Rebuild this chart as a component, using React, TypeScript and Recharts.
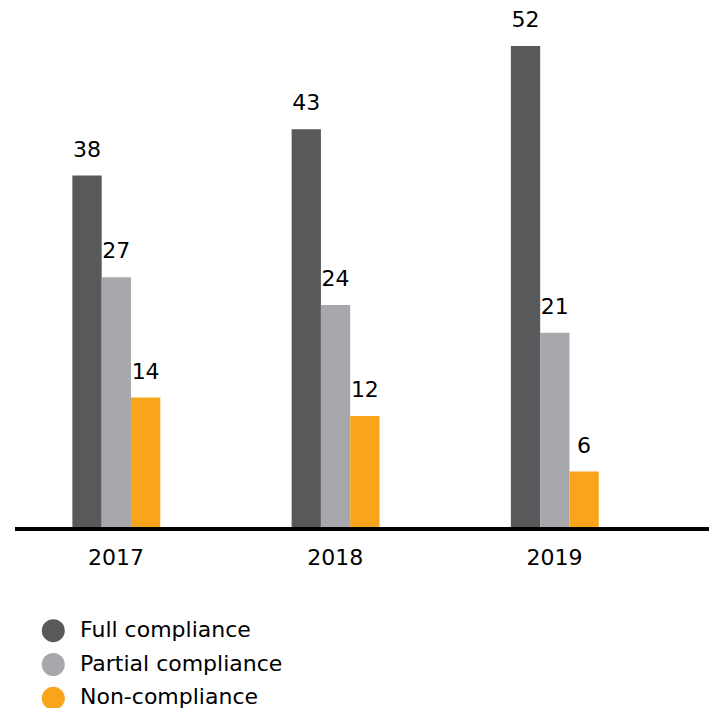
import React from 'react';
import { BarChart, Bar, XAxis, YAxis, LabelList, Legend } from 'recharts';

const years = ['2017', '2018', '2019'];
const fullCompliance = [38, 43, 52];
const partialCompliance = [27, 24, 21];
const nonCompliance = [14, 12, 6];

const seriesNames = ['Full compliance', 'Partial compliance', 'Non-compliance'];
const seriesKeys = ['full', 'partial', 'non'];
const seriesColors = ['#58595b', '#a7a8ab', '#f8a51c'];

const data = years.map((y, i) => ({
  x: i,
  year: y,
  full: fullCompliance[i],
  partial: partialCompliance[i],
  non: nonCompliance[i],
}));

const FONT = 'DejaVu Sans, sans-serif';

const LegendContent = () => (
  <svg width={320} height={112}>
    {seriesNames.map((name, i) => (
      <g key={name}>
        <circle cx={45.3} cy={30.7 + i * 33.8} r={11.5} fill={seriesColors[i]} />
        <text x={72} y={36.7 + i * 33.8} fontSize={22} fontFamily={FONT} fill="#000">
          {name}
        </text>
      </g>
    ))}
  </svg>
);

export default function App() {
  return (
    <BarChart
      width={712}
      height={700}
      data={data}
      margin={{ top: 38, right: 11, left: 7, bottom: 139 }}
      barGap={0}
      barSize={29.3}
    >
      <XAxis
        dataKey="x"
        type="number"
        domain={[-0.4607, 2.7047]}
        ticks={[0, 1, 2]}
        tickFormatter={(v: number) => years[v]}
        axisLine={{ stroke: '#000', strokeWidth: 4 }}
        tickLine={false}
        tickSize={0}
        tickMargin={20}
        height={40}
        tick={{ fontSize: 22, fill: '#000', fontFamily: FONT }}
        allowDataOverflow
      />
      <YAxis hide domain={[-0.216, 52]} allowDataOverflow />
      <Legend
        layout="horizontal"
        verticalAlign="middle"
        align="center"
        content={<LegendContent />}
        wrapperStyle={{ top: 592, left: 0, width: 320, height: 112 }}
      />
      {seriesKeys.map((k, i) => (
        <Bar key={k} dataKey={k} name={seriesNames[i]} fill={seriesColors[i]} isAnimationActive={false}>
          <LabelList
            dataKey={k}
            position="top"
            offset={19}
            fill="#000"
            fontSize={22}
            fontFamily={FONT}
          />
        </Bar>
      ))}
    </BarChart>
  );
}
